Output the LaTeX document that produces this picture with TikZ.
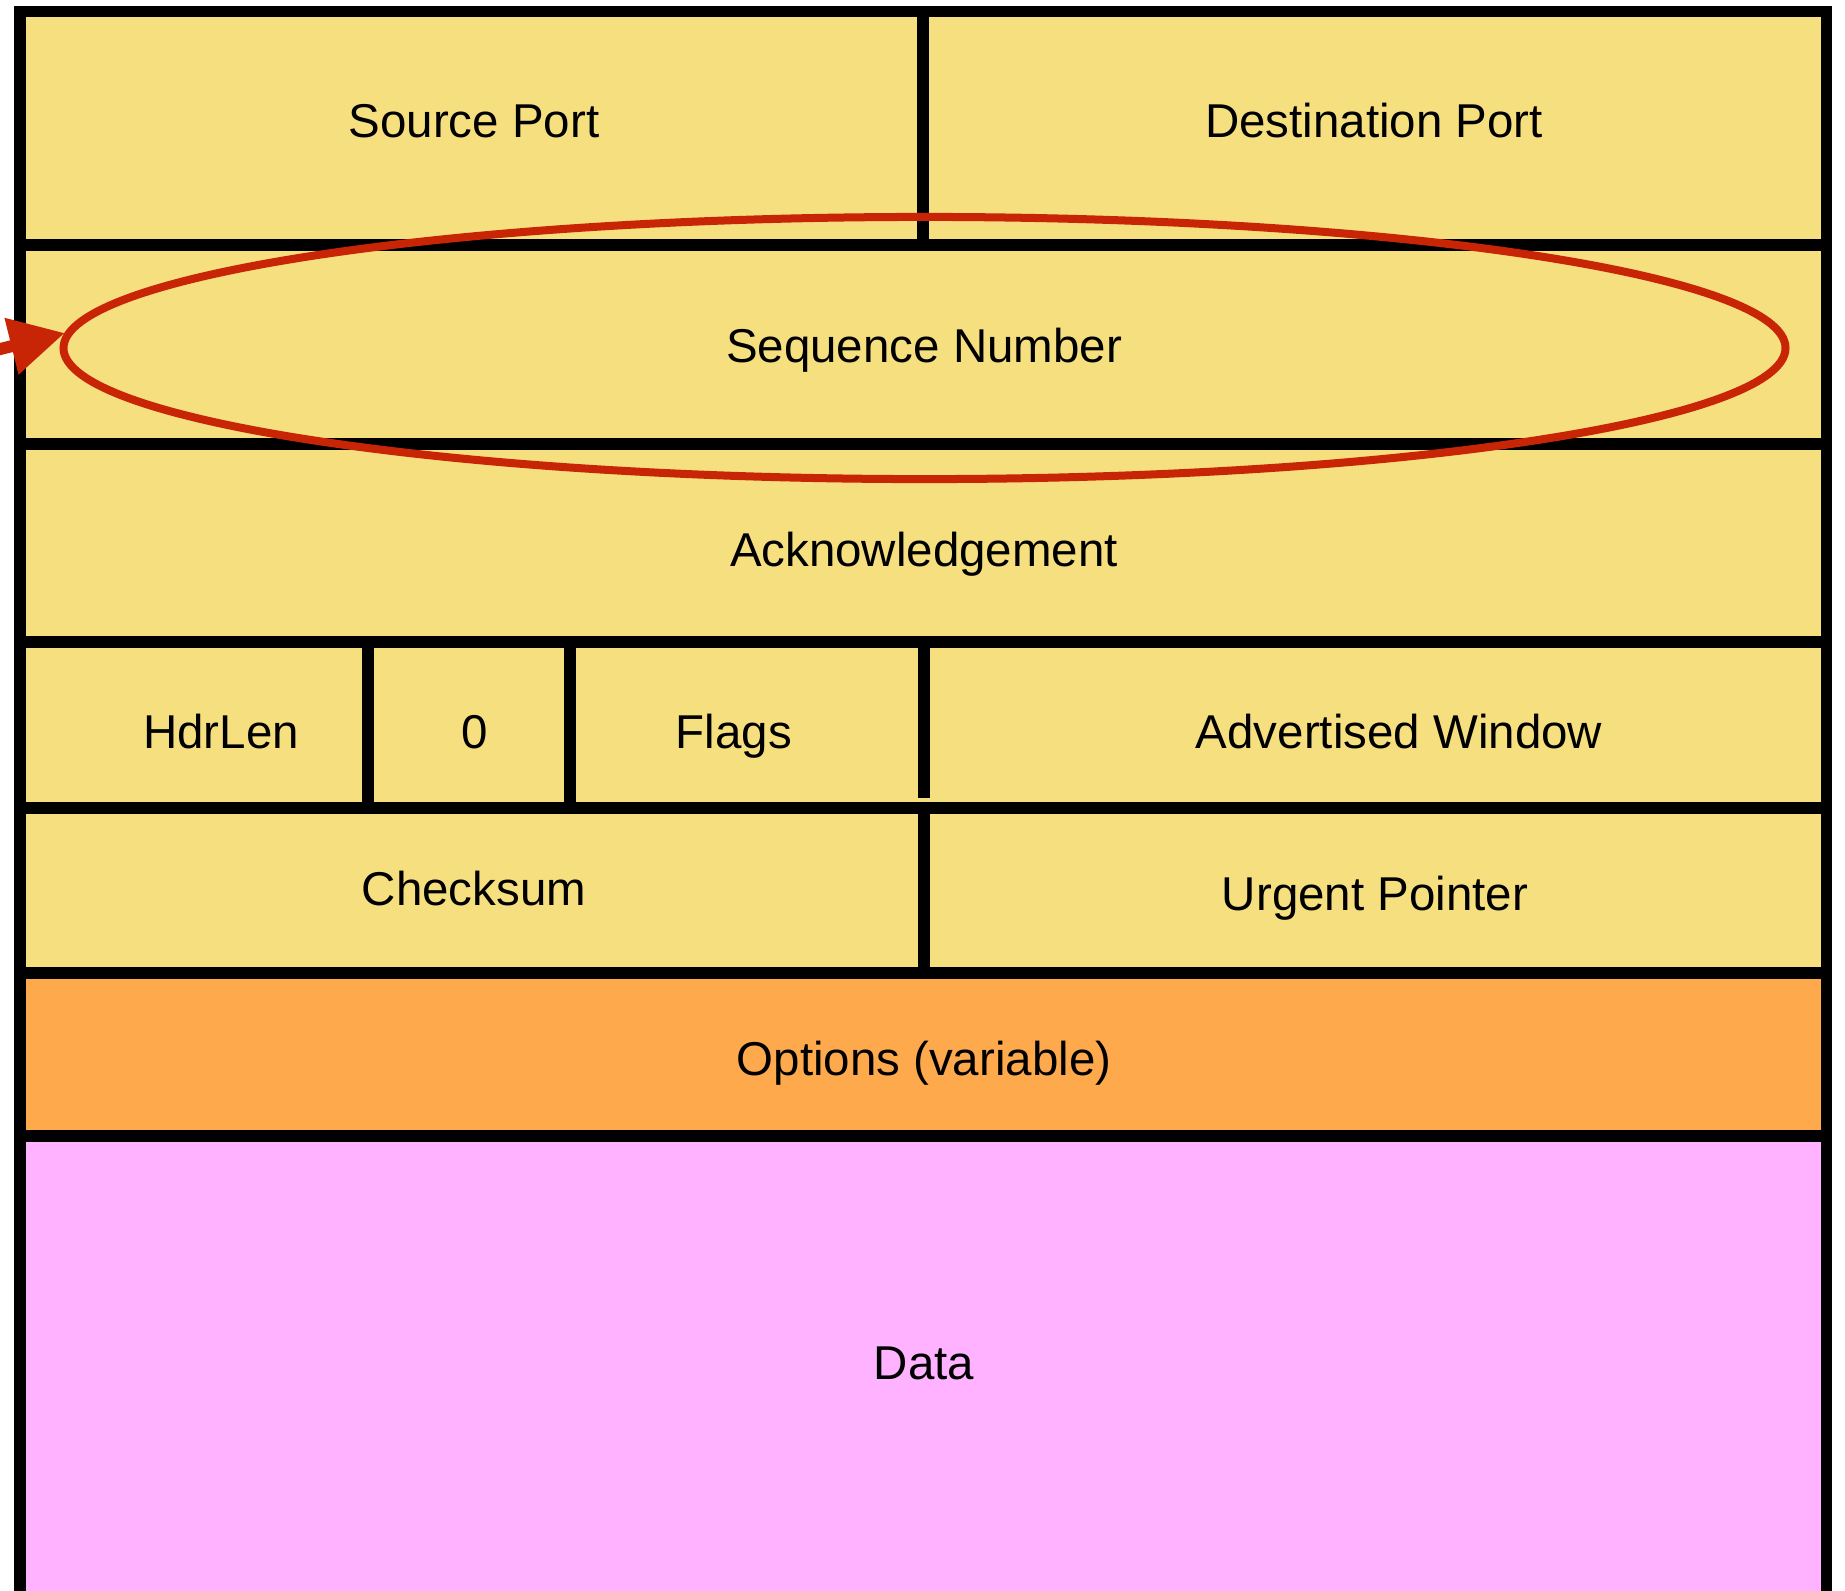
\documentclass[tikz,border=0pt]{standalone}
\usepackage{fontspec}
\setmainfont{Liberation Sans}
\usetikzlibrary{arrows.meta,shapes.geometric}
\definecolor{cellyellow}{RGB}{246,223,127}
\definecolor{cellorange}{RGB}{255,169,77}
\definecolor{cellpink}{RGB}{255,178,255}
\definecolor{markred}{RGB}{200,36,6}
\begin{document}
\begin{tikzpicture}[x=0.01cm,y=-0.01cm,
  rule/.style={line width=0.12cm,black},
  border/.style={line width=0.11cm,black},
  lbl/.style={anchor=base,inner sep=0pt,font=\fontsize{13.5}{16}\selectfont},
  ring/.style={draw=markred,ellipse,line width=0.08cm,inner sep=0pt,minimum width=17.21cm,minimum height=2.62cm},
  pointer/.style={draw=markred,line width=0.12cm,-{Triangle[length=0.55cm,width=0.55cm]},markred}]
\useasboundingbox (0,0) rectangle (1845,1590);
\clip (0,0) rectangle (1845,1590);
% fills
\fill[cellyellow] (20,11) rectangle (1826,973);
\fill[cellorange] (20,973) rectangle (1826,1135.5);
\fill[cellpink] (20,1135.5) rectangle (1826,1600);
% horizontal rules
\foreach \yy in {245,443.5,641.5,807.5,973,1135.5}
  \draw[rule] (20,\yy) -- (1826,\yy);
% vertical rules
\draw[rule] (923,11) -- (923,245);
\draw[rule] (367.5,641.5) -- (367.5,807.5);
\draw[rule] (570,641.5) -- (570,807.5);
\draw[rule] (924,641.5) -- (924,798);
\draw[rule] (924,807.5) -- (924,973);
% outer border
\draw[border] (20,1600) -- (20,11) -- (1826,11) -- (1826,1600);
% labels
\node[lbl] (src) at (474,137) {Source Port};
\node[lbl] (dst) at (1374,137) {Destination Port};
\node[lbl] (seqtxt) at (924,362) {Sequence Number};
\node[lbl] (ack) at (924,566.5) {Acknowledgement};
\node[lbl] (hdr) at (221,748) {HdrLen};
\node[lbl] (zero) at (475,748) {0};
\node[lbl] (flags) at (734,748) {Flags};
\node[lbl] (win) at (1399,748) {Advertised Window};
\node[lbl] (chk) at (474,905) {Checksum};
\node[lbl] (urg) at (1375,910) {Urgent Pointer};
\node[lbl] (opt) at (924,1075) {Options (variable)};
\node[lbl] (data) at (924,1379) {Data};
% highlight
\node[ring] (seq) at (924.5,348) {};
\coordinate (from) at (-40,359);
\draw[pointer] (from) -- (seq.179.3);
\end{tikzpicture}
\end{document}
